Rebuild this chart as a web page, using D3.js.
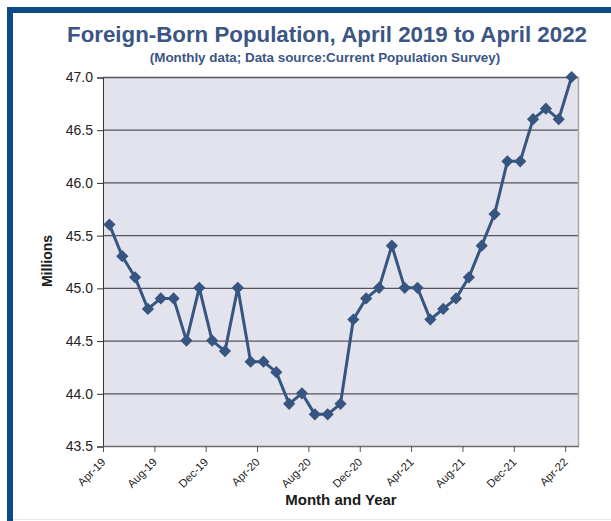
<!DOCTYPE html>
<html>
<head>
<meta charset="utf-8">
<script src="https://cdn.jsdelivr.net/npm/d3@7"></script>
<style>
  body { margin: 0; background: #fff; }
  svg { display: block; font-family: "Liberation Sans", Arial, sans-serif; }
</style>
</head>
<body>
<svg id="chart" width="611" height="521"></svg>
<script>
// monthly foreign-born population (millions), Apr 2019 .. Apr 2022
var months = ["Apr-19","May-19","Jun-19","Jul-19","Aug-19","Sep-19","Oct-19","Nov-19","Dec-19",
  "Jan-20","Feb-20","Mar-20","Apr-20","May-20","Jun-20","Jul-20","Aug-20","Sep-20","Oct-20","Nov-20","Dec-20",
  "Jan-21","Feb-21","Mar-21","Apr-21","May-21","Jun-21","Jul-21","Aug-21","Sep-21","Oct-21","Nov-21","Dec-21",
  "Jan-22","Feb-22","Mar-22","Apr-22"];
var population = [45.6, 45.3, 45.1, 44.8, 44.9, 44.9, 44.5, 45.0, 44.5,
  44.4, 45.0, 44.3, 44.3, 44.2, 43.9, 44.0, 43.8, 43.8, 43.9, 44.7, 44.9,
  45.0, 45.4, 45.0, 45.0, 44.7, 44.8, 44.9, 45.1, 45.4, 45.7, 46.2, 46.2,
  46.6, 46.7, 46.6, 47.0];
var yTicks = [43.5, 44.0, 44.5, 45.0, 45.5, 46.0, 46.5, 47.0];
var labelEvery = 4;

var svg = d3.select("#chart");
// plot area bounds (note: "top" is reserved on window)
var pLeft = 103, pRight = 578, pTop = 77, pBottom = 446;

// frame
svg.append("line").attr("x1", 10).attr("x2", 10).attr("y1", 7).attr("y2", 521)
  .attr("stroke", "#0e4b86").attr("stroke-width", 6);
svg.append("line").attr("x1", 7).attr("x2", 611).attr("y1", 10).attr("y2", 10)
  .attr("stroke", "#0e4b86").attr("stroke-width", 6);
svg.append("line").attr("x1", 13).attr("x2", 611).attr("y1", 519.5).attr("y2", 519.5)
  .attr("stroke", "#e8e9f0").attr("stroke-width", 1);

// titles
svg.append("text").attr("x", 327).attr("y", 42).attr("text-anchor", "middle")
  .style("font-size", "22.3px").style("font-weight", "bold").attr("fill", "#3b5584")
  .text("Foreign-Born Population, April 2019 to April 2022");
svg.append("text").attr("x", 325).attr("y", 62).attr("text-anchor", "middle")
  .style("font-size", "13.4px").style("font-weight", "bold").attr("fill", "#3b5584")
  .text("(Monthly data; Data source:Current Population Survey)");

var x = d3.scaleLinear().domain([0, months.length]).range([pLeft, pRight]);
var y = d3.scaleLinear().domain([43.5, 47.0]).range([pBottom, pTop]);

// plot area
svg.append("rect").attr("x", pLeft).attr("y", pTop)
  .attr("width", pRight - pLeft).attr("height", pBottom - pTop)
  .attr("fill", "#e2e3ec");

// gridlines
svg.append("g").selectAll("line")
  .data(yTicks.filter(function(d) { return d > 43.5; }))
  .enter().append("line")
  .attr("x1", pLeft).attr("x2", pRight)
  .attr("y1", function(d) { return y(d) + 0.5; })
  .attr("y2", function(d) { return y(d) + 0.5; })
  .attr("stroke", "#55555d").attr("stroke-width", 1.3);

// right / bottom border of plot area
svg.append("line").attr("x1", pRight + 0.5).attr("x2", pRight + 0.5).attr("y1", pTop).attr("y2", pBottom)
  .attr("stroke", "#a6a6ad").attr("stroke-width", 1.5);
svg.append("line").attr("x1", pLeft).attr("x2", pRight + 1).attr("y1", pBottom + 0.5).attr("y2", pBottom + 0.5)
  .attr("stroke", "#6c6c72").attr("stroke-width", 1.5);

// y axis
var yAxis = d3.axisLeft(y).tickValues(yTicks).tickFormat(d3.format(".1f")).tickSize(6).tickPadding(4);
var gy = svg.append("g").attr("transform", "translate(" + pLeft + ",0.5)").call(yAxis);
gy.select(".domain").attr("stroke", "#333");
gy.selectAll(".tick line").attr("stroke", "#333");
gy.selectAll("text").style("font-size", "14px").attr("fill", "#222")
  .style("font-family", "'Liberation Sans', Arial, sans-serif");

// x axis: ticks on category boundaries
var xTickVals = d3.range(0, months.length, labelEvery);
var xAxis = d3.axisBottom(x).tickValues(xTickVals).tickSize(6)
  .tickFormat(function(i) { return months[i]; });
var gx = svg.append("g").attr("transform", "translate(0," + pBottom + ")").call(xAxis);
gx.select(".domain").remove();
gx.selectAll(".tick line").attr("stroke", "#555");
gx.selectAll("text")
  .style("font-size", "11.3px").attr("fill", "#222")
  .style("font-family", "'Liberation Sans', Arial, sans-serif")
  .attr("text-anchor", "end")
  .attr("y", 0).attr("dy", "0.35em")
  .attr("transform", "translate(0,14) rotate(-45)");

// axis titles
svg.append("text").attr("x", 341).attr("y", 505).attr("text-anchor", "middle")
  .style("font-size", "15px").style("font-weight", "bold").attr("fill", "#1a1a1a")
  .text("Month and Year");
svg.append("text").attr("transform", "translate(52,261) rotate(-90)").attr("text-anchor", "middle")
  .style("font-size", "14px").style("font-weight", "bold").attr("fill", "#1a1a1a")
  .text("Millions");

// series
var line = d3.line()
  .x(function(d, i) { return x(i + 0.5); })
  .y(function(d) { return y(d); });
svg.append("path").datum(population)
  .attr("d", line).attr("fill", "none")
  .attr("stroke", "#365581").attr("stroke-width", 3).attr("stroke-linejoin", "round");

var diamond = d3.symbol().type(d3.symbolDiamond2).size(95);
svg.append("g").selectAll("path")
  .data(population).enter().append("path")
  .attr("d", diamond)
  .attr("transform", function(d, i) { return "translate(" + x(i + 0.5) + "," + y(d) + ")"; })
  .attr("fill", "#365581");
</script>
</body>
</html>
